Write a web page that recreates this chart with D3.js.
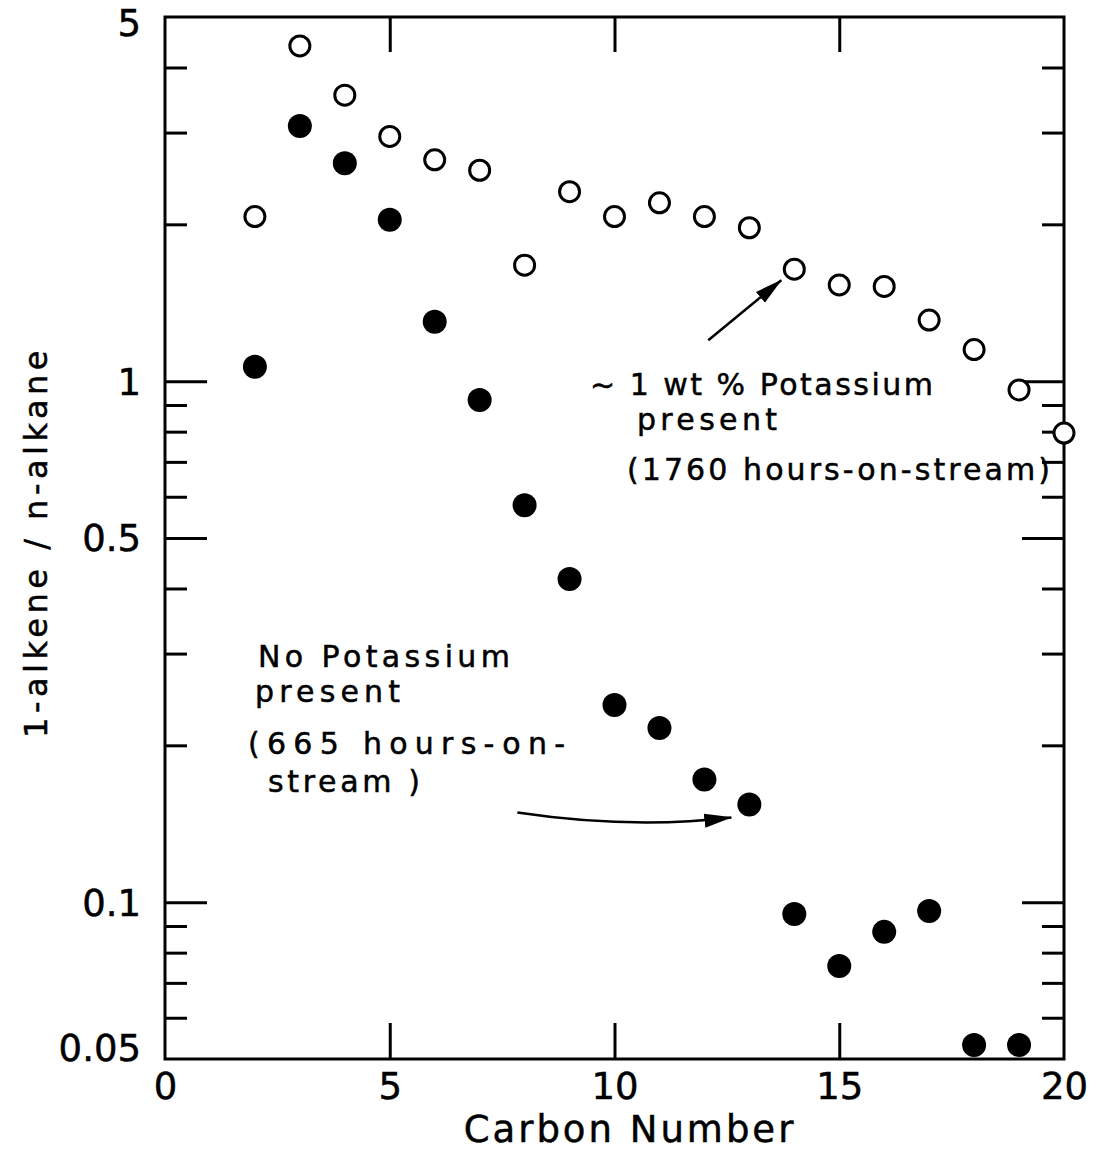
<!DOCTYPE html>
<html>
<head>
<meta charset="utf-8">
<script src="https://cdn.jsdelivr.net/npm/d3@7"></script>
<style>
  body { margin: 0; background: #fff; }
  svg text { font-family: 'DejaVu Sans', sans-serif; fill: #000; stroke: #000; stroke-width: 0.5px; }
  .tick text { font-size: 37px; }
  .tick line { stroke: #000; stroke-width: 3; }
  .axis-title { font-size: 37px; letter-spacing: 3px; }
  .y-title { font-size: 32px; letter-spacing: 4.5px; }
  .note { font-size: 30px; }
</style>
</head>
<body>
<div id="chart"></div>
<script>
// ~1 wt % potassium present (open circles)
const carbonWithK = [2, 3, 4, 5, 6, 7, 8, 9, 10, 11, 12, 13, 14, 15, 16, 17, 18, 19, 20];
const ratioWithK = [2.07, 4.40, 3.54, 2.95, 2.66, 2.54, 1.67, 2.31, 2.07, 2.20, 2.07, 1.97, 1.64, 1.53, 1.52, 1.31, 1.15, 0.962, 0.795];

// no potassium present (filled circles)
const carbonNoK = [2, 3, 4, 5, 6, 7, 8, 9, 10, 11, 12, 13, 14, 15, 16, 17, 18, 19];
const ratioNoK = [1.066, 3.09, 2.62, 2.04, 1.30, 0.92, 0.578, 0.417, 0.239, 0.216, 0.172, 0.154, 0.0949, 0.0754, 0.0877, 0.0962, 0.0532, 0.0532];

// ticks
const xLabelTicks = [0, 5, 10, 15, 20];
const xInnerTicks = [5, 10, 15];
const yLabelTicks = [5, 1, 0.5, 0.1, 0.05];
const yLabelText = ['5', '1', '0.5', '0.1', '0.05'];
const yMajorTicks = [1, 0.5, 0.1];
const yMinorTicks = [4, 3, 2, 0.9, 0.8, 0.7, 0.6, 0.4, 0.3, 0.2, 0.09, 0.08, 0.07, 0.06];

// annotation text
const noteWithK = ['~ 1 wt % Potassium', 'present', '(1760 hours-on-stream)'];
const noteNoK = ['No Potassium', 'present', '(665 hours-on-', 'stream )'];

const W = 1099, H = 1155;
const margin = { top: 17, left: 165, right: 35, bottom: 96 };
const width = W - margin.left - margin.right;
const height = H - margin.top - margin.bottom;

const svg = d3.select('#chart').append('svg')
  .attr('width', W)
  .attr('height', H);

svg.append('rect').attr('width', W).attr('height', H).attr('fill', '#fff');

svg.append('defs').append('marker')
  .attr('id', 'head')
  .attr('markerUnits', 'userSpaceOnUse')
  .attr('viewBox', '0 -8 28 16')
  .attr('refX', 27)
  .attr('refY', 0)
  .attr('markerWidth', 28)
  .attr('markerHeight', 16)
  .attr('orient', 'auto')
  .append('path')
  .attr('d', 'M0,-7L28,0L0,7Z')
  .attr('fill', '#000');

const g = svg.append('g')
  .attr('transform', `translate(${margin.left},${margin.top})`);

const x = d3.scaleLinear().domain([0, 20]).range([0, width]);
const y = d3.scaleLog().domain([0.05, 5]).range([height, 0]);

// Axes (ticks point inward)
function drawAxis(axis, transform) {
  const a = g.append('g').attr('transform', transform).call(axis);
  a.select('.domain').remove();
  return a;
}

drawAxis(d3.axisBottom(x).tickValues(xInnerTicks).tickSize(-36).tickFormat(''), `translate(0,${height})`);
drawAxis(d3.axisBottom(x).tickValues(xLabelTicks).tickSize(0).tickPadding(14).tickFormat(d => d), `translate(0,${height})`);
drawAxis(d3.axisTop(x).tickValues(xInnerTicks).tickSize(-35).tickFormat(''), 'translate(0,0)');

drawAxis(d3.axisLeft(y).tickValues(yMinorTicks).tickSize(-22).tickFormat(''), 'translate(0,0)');
drawAxis(d3.axisLeft(y).tickValues(yMajorTicks).tickSize(-42).tickFormat(''), 'translate(0,0)');
drawAxis(d3.axisRight(y).tickValues(yMinorTicks).tickSize(-22).tickFormat(''), `translate(${width},0)`);
drawAxis(d3.axisRight(y).tickValues(yMajorTicks).tickSize(-42).tickFormat(''), `translate(${width},0)`);

const yLab = drawAxis(d3.axisLeft(y).tickValues(yLabelTicks).tickSize(0).tickPadding(24)
  .tickFormat((d, i) => yLabelText[i]), 'translate(0,0)');
// keep the corner labels inside the frame
yLab.selectAll('text')
  .attr('dy', d => d === 5 ? '0.5em' : d === 0.05 ? '0.05em' : '0.35em');

// frame
g.append('rect')
  .attr('width', width)
  .attr('height', height)
  .attr('fill', 'none')
  .attr('stroke', '#000')
  .attr('stroke-width', 3);

// Points
g.selectAll('circle.withK')
  .data(carbonWithK.map((c, i) => ({ c: c, v: ratioWithK[i] })))
  .enter()
  .append('circle')
  .attr('class', 'withK')
  .attr('cx', d => x(d.c))
  .attr('cy', d => y(d.v))
  .attr('r', 10)
  .attr('fill', '#fff')
  .attr('stroke', '#000')
  .attr('stroke-width', 3);

g.selectAll('circle.noK')
  .data(carbonNoK.map((c, i) => ({ c: c, v: ratioNoK[i] })))
  .enter()
  .append('circle')
  .attr('class', 'noK')
  .attr('cx', d => x(d.c))
  .attr('cy', d => y(d.v))
  .attr('r', 12)
  .attr('fill', '#000');

// Titles
g.append('text')
  .attr('class', 'axis-title')
  .attr('x', 465)
  .attr('y', 1125)
  .attr('text-anchor', 'middle')
  .text('Carbon Number');

g.append('text')
  .attr('class', 'y-title')
  .attr('text-anchor', 'middle')
  .attr('transform', `translate(-118,525) rotate(-90)`)
  .text('1-alkene / n-alkane');

// Annotations: [x, baseline, line width]
const noteK = g.append('g');
[[425, 378, 343], [472, 413, 140], [462, 463, 423]].forEach((p, i) => {
  noteK.append('text').attr('class', 'note')
    .attr('x', p[0]).attr('y', p[1])
    .attr('textLength', p[2]).attr('lengthAdjust', 'spacing')
    .text(noteWithK[i]);
});

const noteN = g.append('g');
[[93, 650, 252], [90, 685, 145], [83, 737, 317], [103, 775, 152]].forEach((p, i) => {
  noteN.append('text').attr('class', 'note')
    .attr('x', p[0]).attr('y', p[1])
    .attr('textLength', p[2]).attr('lengthAdjust', 'spacing')
    .text(noteNoK[i]);
});

// arrow to the ~1 wt% series (points at C14)
const tipK = [x(14) - 13, y(ratioWithK[12]) + 11];
g.append('path')
  .attr('d', `M${tipK[0] - 73},${tipK[1] + 60}L${tipK[0]},${tipK[1]}`)
  .attr('stroke', '#000')
  .attr('stroke-width', 2.5)
  .attr('fill', 'none')
  .attr('marker-end', 'url(#head)');

// curved arrow to the no-potassium series (points at C13)
const tipN = [x(13) - 18, y(ratioNoK[11]) + 13];
g.append('path')
  .attr('d', `M${tipN[0] - 214},${tipN[1] - 5}Q${tipN[0] - 100},${tipN[1] + 12} ${tipN[0]},${tipN[1]}`)
  .attr('stroke', '#000')
  .attr('stroke-width', 2.5)
  .attr('fill', 'none')
  .attr('marker-end', 'url(#head)');
</script>
</body>
</html>
